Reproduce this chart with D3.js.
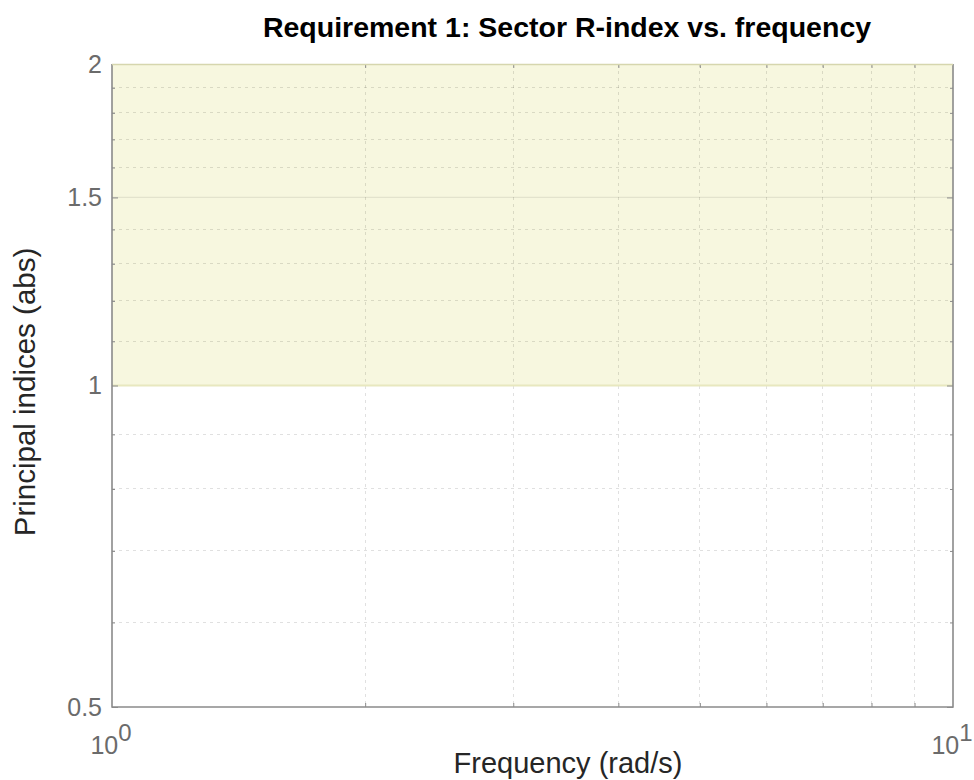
<!DOCTYPE html>
<html><head><meta charset="utf-8">
<script src="https://cdn.jsdelivr.net/npm/d3@7"></script>
<style>body{margin:0;background:#fff}svg{display:block}</style>
</head><body>
<svg id="c" width="974" height="780"></svg>
<script>
const xDomain = [1, 10];
const yDomain = [0.5, 2];
const xMajorTicks = [1, 10];
const xTickLabels = ["0", "1"];
const xMinorTicks = [2, 3, 4, 5, 6, 7, 8, 9];
const yMajorTicks = [0.5, 1, 1.5, 2];
const yTickLabels = ["0.5", "1", "1.5", "2"];
const yMinorTicks = [0.6, 0.7, 0.8, 0.9, 1.1, 1.2, 1.3, 1.4, 1.6, 1.7, 1.8, 1.9];
const regionFreq = [1, 10];
const regionIndex = [1, 2];

const FONT = "Liberation Sans, Arial, Helvetica, sans-serif";
const svg = d3.select("#c");
const L = 112, R = 953, T = 64, B = 707;
const x = d3.scaleLog().domain(xDomain).range([L, R]);
const y = d3.scaleLog().domain(yDomain).range([B, T]);

// shaded region
svg.append("rect")
  .attr("x", x(regionFreq[0])).attr("width", x(regionFreq[1]) - x(regionFreq[0]))
  .attr("y", y(regionIndex[1])).attr("height", y(regionIndex[0]) - y(regionIndex[1]))
  .attr("fill", "#f7f7df");

// grid minor
const g = svg.append("g");
g.selectAll(".vx").data(xMinorTicks).join("line")
  .attr("x1", d => x(d)).attr("x2", d => x(d)).attr("y1", T).attr("y2", B)
  .attr("stroke", "rgba(0,0,0,0.12)").attr("stroke-width", 1).attr("stroke-dasharray", "3,4")
  .attr("shape-rendering", "crispEdges");
g.selectAll(".hy").data(yMinorTicks).join("line")
  .attr("x1", L).attr("x2", R).attr("y1", d => y(d)).attr("y2", d => y(d))
  .attr("stroke", "rgba(0,0,0,0.12)").attr("stroke-width", 1).attr("stroke-dasharray", "3,4")
  .attr("shape-rendering", "crispEdges");
// major grid
g.selectAll(".my").data(yMajorTicks.filter(d => d > yDomain[0] && d < yDomain[1])).join("line")
  .attr("x1", L).attr("x2", R).attr("y1", d => y(d)).attr("y2", d => y(d))
  .attr("stroke", "rgba(0,0,0,0.08)").attr("stroke-width", 1.2);

// region edge line
svg.append("line").attr("x1", L).attr("x2", R).attr("y1", y(regionIndex[0])).attr("y2", y(regionIndex[0]))
  .attr("stroke", "#e8e8bf").attr("stroke-width", 2);

// axes
const axCol = "#8a8a8a";
const txtCol = "#6b6b6b";
const ax = svg.append("g");
function styleTicks(s) { s.select(".domain").remove(); s.selectAll("line").attr("stroke", axCol); }
ax.append("g").attr("transform", `translate(${L},0)`)
  .call(d3.axisLeft(y).tickValues(yMajorTicks).tickFormat((d, i) => yTickLabels[i]).tickSize(-6).tickPadding(10))
  .call(styleTicks)
  .call(s => s.selectAll("text").attr("fill", txtCol).attr("font-family", FONT).attr("font-size", 25));
ax.append("g").attr("transform", `translate(${L},0)`)
  .call(d3.axisLeft(y).tickValues(yMinorTicks).tickFormat("").tickSize(-3)).call(styleTicks);
ax.append("g").attr("transform", `translate(${R},0)`)
  .call(d3.axisRight(y).tickValues(yMajorTicks).tickFormat("").tickSize(-6)).call(styleTicks);
ax.append("g").attr("transform", `translate(${R},0)`)
  .call(d3.axisRight(y).tickValues(yMinorTicks).tickFormat("").tickSize(-3)).call(styleTicks);
ax.append("g").attr("transform", `translate(0,${B})`)
  .call(d3.axisBottom(x).tickValues(xMinorTicks).tickFormat("").tickSize(-4)).call(styleTicks);
ax.append("g").attr("transform", `translate(0,${T})`)
  .call(d3.axisTop(x).tickValues(xMinorTicks).tickFormat("").tickSize(-4)).call(styleTicks);

// x tick labels 10^n
const xl = svg.append("g").selectAll("text").data(xMajorTicks).join("text")
  .attr("x", d => x(d) - 1).attr("y", 754).attr("text-anchor", "middle")
  .attr("fill", txtCol).attr("font-family", FONT).attr("font-size", 25);
xl.append("tspan").text("10");
xl.append("tspan").text((d, i) => xTickLabels[i]).attr("dy", -13).attr("font-size", 24);

// box
svg.append("path")
  .attr("d", `M${L},${T}V${B}H${R}V${T}`)
  .attr("fill", "none").attr("stroke", axCol).attr("stroke-width", 1.6);
svg.append("line").attr("x1", L).attr("x2", R).attr("y1", T + 0.5).attr("y2", T + 0.5)
  .attr("stroke", "#d6d6ae").attr("stroke-width", 1.6);

// title
svg.append("text").attr("x", 567).attr("y", 37).attr("text-anchor", "middle")
  .attr("fill", "#000").attr("font-family", FONT).attr("font-weight", "bold").attr("font-size", 28.5)
  .text("Requirement 1: Sector R-index vs. frequency");
// x label
svg.append("text").attr("x", 568).attr("y", 773).attr("text-anchor", "middle")
  .attr("fill", "#262626").attr("font-family", FONT).attr("font-size", 29)
  .text("Frequency (rad/s)");
// y label
svg.append("text").attr("transform", "translate(35,392) rotate(-90)").attr("text-anchor", "middle")
  .attr("fill", "#262626").attr("font-family", FONT).attr("font-size", 29.5)
  .text("Principal indices (abs)");
</script>
</body></html>
